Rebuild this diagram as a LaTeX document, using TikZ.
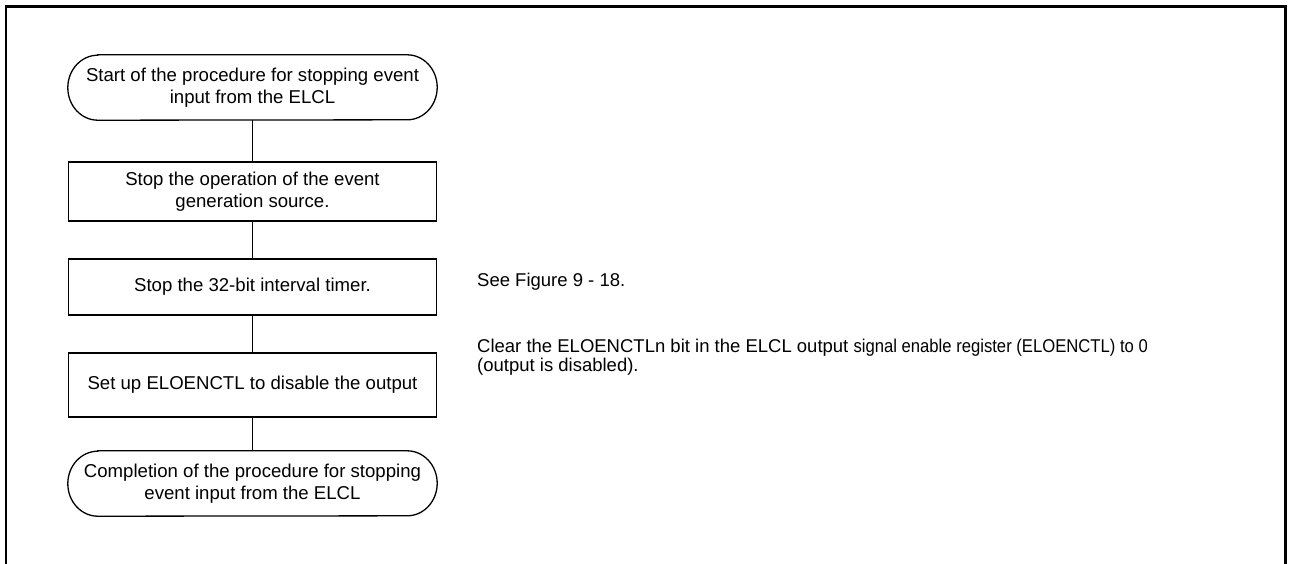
\documentclass[tikz,border=0pt]{standalone}
\usepackage{fontspec}
\setmainfont{Liberation Sans}
\begin{document}
\begin{tikzpicture}[x=1pt,y=-1pt,
  boxline/.style={line width=1.3pt, draw=black},
  procbox/.style={boxline, rectangle, minimum width=368pt, inner sep=0pt, align=center,
    font=\fontsize{18.6}{22}\selectfont},
  termbox/.style={rectangle, draw=none, minimum width=369pt, minimum height=65pt, inner sep=0pt, align=center,
    font=\fontsize{18.6}{22}\selectfont},
  conn/.style={line width=1.4pt},
  frameline/.style={line width=2.4pt},
  note/.style={anchor=base west, inner sep=0pt, align=left, font=\fontsize{18.5}{15.7}\selectfont}
]
\fill[white] (0,0) rectangle (1289,563);
\useasboundingbox (0,0) rectangle (1289,563);

% outer frame
\draw[frameline] (6.2,570) -- (6.2,6.6) -- (1285.5,6.6) -- (1285.5,570);

% flowchart nodes
\node[termbox] (start) at (252.5,87.5) {Start of the procedure for stopping event\\input from the ELCL};
\node[procbox, minimum height=59pt] (b1) at (252.5,191.5) {Stop the operation of the event\\generation source.};
\node[procbox, minimum height=56pt] (b2) at (252.5,287) {Stop the 32-bit interval timer.};
\node[procbox, minimum height=64pt] (b3) at (252.5,385) {Set up ELOENCTL to disable the output};
\node[termbox] (stop) at (252.5,483.5) {Completion of the procedure for stopping\\event input from the ELCL};

% terminal outlines
\foreach \n in {start,stop}{
  \draw[boxline] ([xshift=30pt]\n.north west) -- ([xshift=-30pt]\n.north east)
    arc[start angle=90, end angle=-90, x radius=30pt, y radius=32.5pt]
    -- ([xshift=30pt]\n.south west)
    arc[start angle=270, end angle=90, x radius=30pt, y radius=32.5pt] -- cycle;
}

% connectors
\draw[conn] (start.south) -- (b1.north);
\draw[conn] (b1.south) -- (b2.north);
\draw[conn] (b2.south) -- (b3.north);
\draw[conn] (b3.south) -- (stop.north);

% notes
\node[note] (n1) at (477,286.7) {See Figure 9 - 18.};
\node[note] (n2) at (477,371) {Clear the ELOENCTLn bit in the ELCL output {\addfontfeature{FakeStretch=0.9}signal enable register (ELOENCTL) to 0}\\(output is disabled).};
\end{tikzpicture}
\end{document}
